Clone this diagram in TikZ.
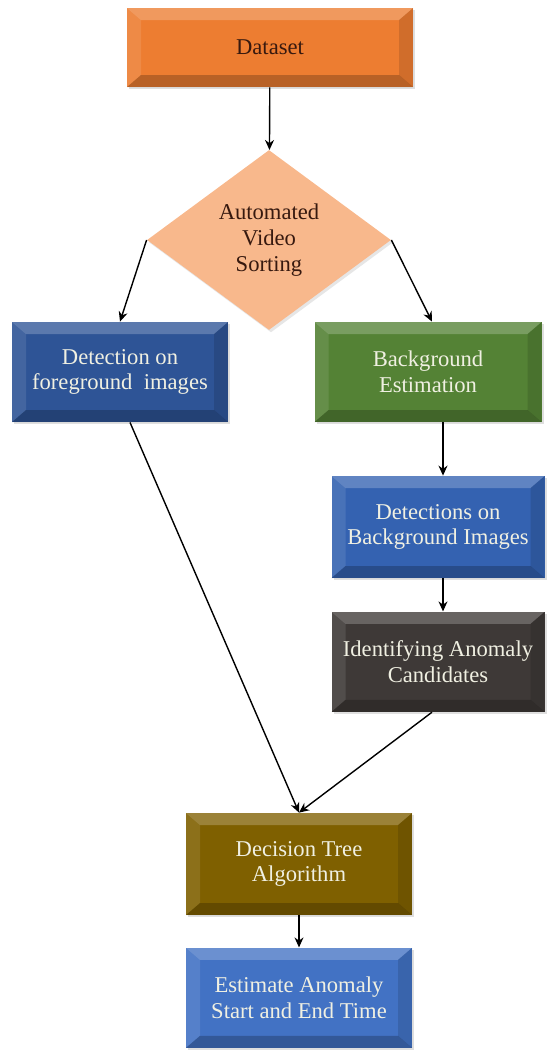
\documentclass[tikz,border=0pt]{standalone}
\usepackage{fontspec}
\setmainfont{Liberation Serif}
\usepackage{tikz}
\usetikzlibrary{arrows.meta,positioning,shapes.geometric,shadows}
\usepackage{xcolor}
\definecolor{dataorange}{RGB}{237,125,49}
\definecolor{sortpeach}{RGB}{248,184,140}
\definecolor{fgblue}{RGB}{46,84,150}
\definecolor{bggreen}{RGB}{84,130,53}
\definecolor{detblue}{RGB}{52,98,177}
\definecolor{identgray}{RGB}{62,57,55}
\definecolor{decolive}{RGB}{127,96,0}
\definecolor{estblue}{RGB}{66,114,196}
\definecolor{darktext}{RGB}{55,25,15}
\definecolor{lighttext}{RGB}{240,240,226}

\begin{document}
\begin{tikzpicture}[
    x=0.5pt, y=-0.5pt,
    bevel/.style={path picture={
        \fill[white, opacity=.22] (path picture bounding box.north west) -- (path picture bounding box.north east)
            -- ([xshift=-7pt,yshift=-6pt]path picture bounding box.north east) -- ([xshift=7pt,yshift=-6pt]path picture bounding box.north west) -- cycle;
        \fill[white, opacity=.10] (path picture bounding box.north west) -- ([xshift=7pt,yshift=-6pt]path picture bounding box.north west)
            -- ([xshift=7pt,yshift=6pt]path picture bounding box.south west) -- (path picture bounding box.south west) -- cycle;
        \fill[black, opacity=.12] (path picture bounding box.north east) -- ([xshift=-7pt,yshift=-6pt]path picture bounding box.north east)
            -- ([xshift=-7pt,yshift=6pt]path picture bounding box.south east) -- (path picture bounding box.south east) -- cycle;
        \fill[black, opacity=.22] (path picture bounding box.south west) -- (path picture bounding box.south east)
            -- ([xshift=-7pt,yshift=6pt]path picture bounding box.south east) -- ([xshift=7pt,yshift=6pt]path picture bounding box.south west) -- cycle;
    }},
    box/.style={bevel, fill=#1, minimum height=50pt, minimum width=108pt, align=center, inner sep=2pt,
        font=\fontsize{11.3}{12.8}\selectfont, text=lighttext,
        drop shadow={opacity=.25, shadow xshift=1pt, shadow yshift=-1.2pt}},
    arr/.style={-{Stealth[length=5pt, width=4.5pt]}, line width=0.7pt}
]
\useasboundingbox (0,0) rectangle (547,1050);

\node[box=dataorange, text=darktext, minimum width=143pt, minimum height=39.5pt] (data) at (270,47.5) {Dataset};
\node[diamond, fill=sortpeach, text=darktext, inner sep=0pt, minimum width=122pt, minimum height=90pt, align=center,
    font=\fontsize{11.3}{12.8}\selectfont, drop shadow={opacity=.2, shadow xshift=1pt, shadow yshift=-1.2pt}] (sort) at (269,240) {Automated\\Video\\Sorting};

\node[box=fgblue] (fg) at (120,372) {Detection on\\foreground\ \ images};
\node[box=bggreen, minimum width=113.5pt] (bg) at (428,372) {Background\\Estimation};
\node[box=detblue, minimum width=106.5pt, minimum height=51pt] (detbg) at (438,527) {Detections on\\Background Images};
\node[box=identgray, minimum width=106.5pt, below=16.5pt of detbg] (ident) {Identifying Anomaly\\Candidates};

\node[box=decolive, minimum width=113pt, minimum height=51pt] (dec) at (299,864) {Decision Tree\\Algorithm};
\node[box=estblue, minimum width=113pt, below=16pt of dec] (est) {Estimate Anomaly\\Start and End Time};

\draw[arr] (data) -- (sort);
\draw[arr] (sort.west) -- (fg.north);
\draw[arr] (sort.east) -- ([xshift=2pt]bg.north);
\draw[arr] ([xshift=7.5pt]bg.south) -- ([xshift=2.5pt]detbg.north);
\draw[arr] ([xshift=2.5pt]detbg.south) -- ([xshift=2.5pt]ident.north);
\draw[arr] ([xshift=5pt]fg.south) -- (dec.north);
\draw[arr] ([xshift=-3pt]ident.south) -- (dec.north);
\draw[arr] (dec) -- (est);
\end{tikzpicture}
\end{document}
